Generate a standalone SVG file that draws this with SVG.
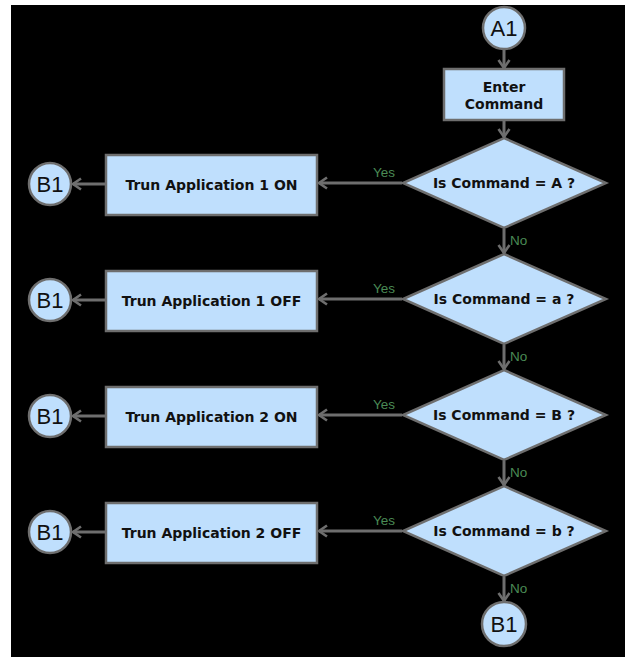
<svg xmlns="http://www.w3.org/2000/svg" width="625" height="657" viewBox="0 0 625 657">
  <defs>
    <style>
      .shape { fill: #bfdffd; stroke: #6e6e6e; stroke-width: 2.5; }
      .conn { fill: none; stroke: #6e6e6e; stroke-width: 3; }
      .bold { font-family: "DejaVu Sans", "Liberation Sans", sans-serif; font-weight: bold; font-size: 14px; fill: #111; text-anchor: middle; }
      .term { font-family: "Liberation Sans", Arial, sans-serif; font-size: 22px; fill: #111; text-anchor: middle; }
      .lbl { font-family: "Liberation Sans", Arial, sans-serif; font-size: 13.5px; fill: #4a8a55; }
    </style>
    <marker id="arrow" markerUnits="userSpaceOnUse" markerWidth="14" markerHeight="14" refX="10" refY="7" orient="auto">
      <path d="M2,1.5 L10,7 L2,12.5" fill="none" stroke="#6e6e6e" stroke-width="2.6"/>
    </marker>
  </defs>

  <!-- backdrop -->
  <rect x="11" y="5" width="614" height="652" fill="#000"/>

  <!-- connectors -->
  <g id="connectors" class="conn">
    <line x1="504" y1="50" x2="504" y2="68" marker-end="url(#arrow)"/>
    <line x1="504" y1="121" x2="504" y2="137" marker-end="url(#arrow)"/>
    <line x1="504" y1="229" x2="504" y2="253" marker-end="url(#arrow)"/>
    <line x1="504" y1="345" x2="504" y2="369" marker-end="url(#arrow)"/>
    <line x1="504" y1="461" x2="504" y2="485" marker-end="url(#arrow)"/>
    <line x1="504" y1="577" x2="504" y2="601" marker-end="url(#arrow)"/>

    <line x1="402" y1="183" x2="319" y2="183" marker-end="url(#arrow)"/>
    <line x1="402" y1="299" x2="319" y2="299" marker-end="url(#arrow)"/>
    <line x1="402" y1="415" x2="319" y2="415" marker-end="url(#arrow)"/>
    <line x1="402" y1="531" x2="319" y2="531" marker-end="url(#arrow)"/>

    <line x1="105" y1="184" x2="73" y2="184" marker-end="url(#arrow)"/>
    <line x1="105" y1="300" x2="73" y2="300" marker-end="url(#arrow)"/>
    <line x1="105" y1="416" x2="73" y2="416" marker-end="url(#arrow)"/>
    <line x1="105" y1="532" x2="73" y2="532" marker-end="url(#arrow)"/>
  </g>

  <!-- connector labels -->
  <g id="labels" class="lbl">
    <text x="373" y="177">Yes</text>
    <text x="373" y="293">Yes</text>
    <text x="373" y="409">Yes</text>
    <text x="373" y="525">Yes</text>
    <text x="510" y="245">No</text>
    <text x="510" y="361">No</text>
    <text x="510" y="477">No</text>
    <text x="510" y="593">No</text>
  </g>

  <g id="start-A1">
    <circle class="shape" cx="504" cy="28" r="21"/>
    <text class="term" x="504" y="36">A1</text>
  </g>

  <g id="enter-command">
    <rect class="shape" x="444" y="69" width="120" height="51"/>
    <text class="bold" x="504" y="92">Enter</text>
    <text class="bold" x="504" y="109">Command</text>
  </g>

  <g id="check-A">
    <polygon class="shape" points="504,138 606,183 504,228 403,183"/>
    <text class="bold" x="504" y="188">Is Command = A ?</text>
  </g>
  <g id="check-a">
    <polygon class="shape" points="504,254 606,299 504,344 403,299"/>
    <text class="bold" x="504" y="304">Is Command = a ?</text>
  </g>
  <g id="check-B">
    <polygon class="shape" points="504,370 606,415 504,460 403,415"/>
    <text class="bold" x="504" y="420">Is Command = B ?</text>
  </g>
  <g id="check-b">
    <polygon class="shape" points="504,486 606,531 504,576 403,531"/>
    <text class="bold" x="504" y="536">Is Command = b ?</text>
  </g>

  <g id="app1-on">
    <rect class="shape" x="106" y="155" width="211" height="60"/>
    <text class="bold" x="211.5" y="190">Trun Application 1 ON</text>
  </g>
  <g id="app1-off">
    <rect class="shape" x="106" y="271" width="211" height="60"/>
    <text class="bold" x="211.5" y="306">Trun Application 1 OFF</text>
  </g>
  <g id="app2-on">
    <rect class="shape" x="106" y="387" width="211" height="60"/>
    <text class="bold" x="211.5" y="422">Trun Application 2 ON</text>
  </g>
  <g id="app2-off">
    <rect class="shape" x="106" y="503" width="211" height="60"/>
    <text class="bold" x="211.5" y="538">Trun Application 2 OFF</text>
  </g>

  <g id="end-B1-1">
    <circle class="shape" cx="50" cy="184" r="21"/>
    <text class="term" x="50" y="192">B1</text>
  </g>
  <g id="end-B1-2">
    <circle class="shape" cx="50" cy="300" r="21"/>
    <text class="term" x="50" y="308">B1</text>
  </g>
  <g id="end-B1-3">
    <circle class="shape" cx="50" cy="416" r="21"/>
    <text class="term" x="50" y="424">B1</text>
  </g>
  <g id="end-B1-4">
    <circle class="shape" cx="50" cy="532" r="21"/>
    <text class="term" x="50" y="540">B1</text>
  </g>
  <g id="end-B1-5">
    <circle class="shape" cx="504" cy="624" r="22"/>
    <text class="term" x="504" y="632">B1</text>
  </g>
</svg>
